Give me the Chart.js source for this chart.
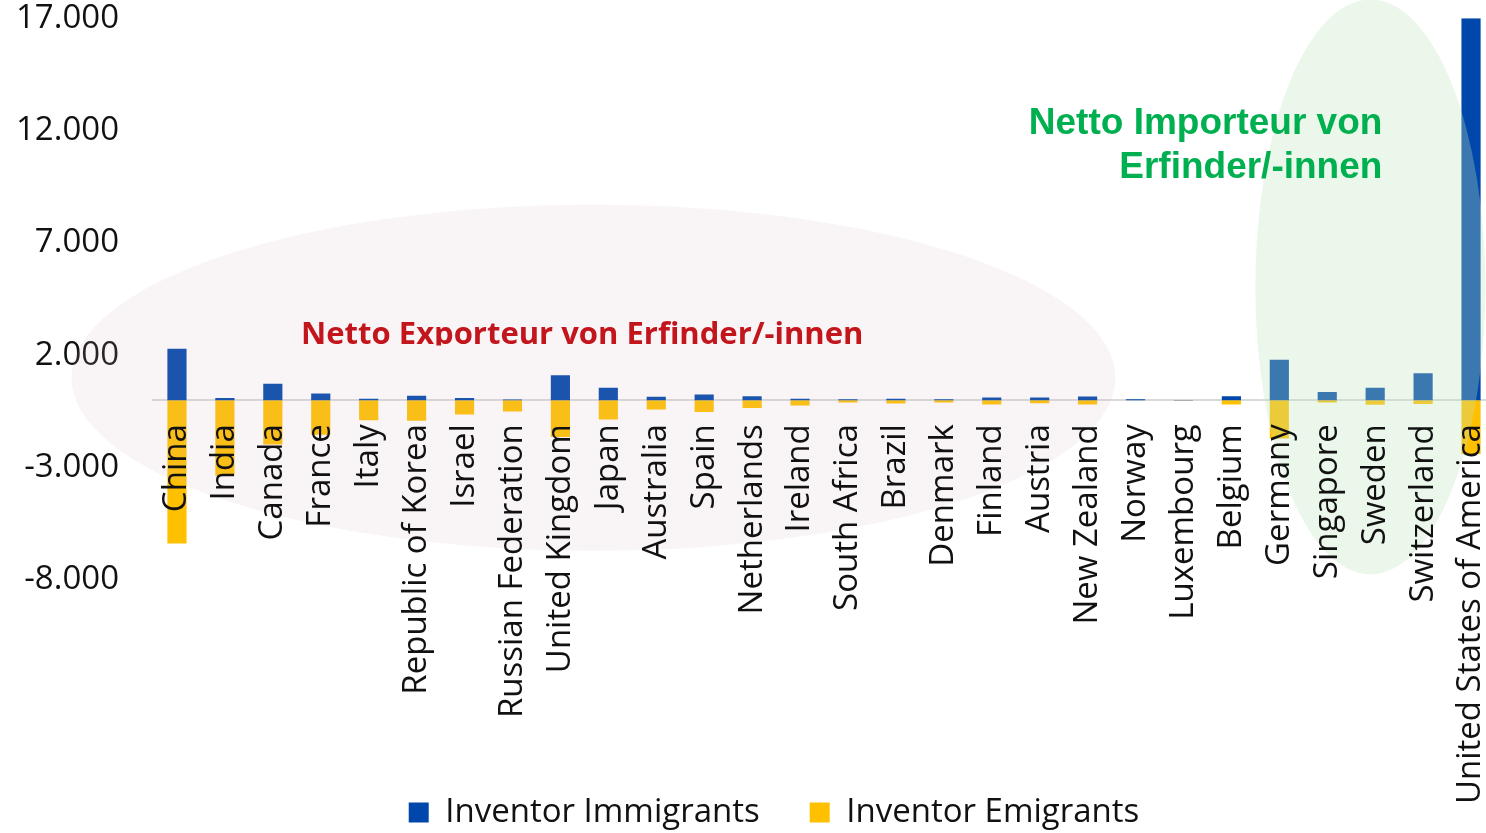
<!DOCTYPE html>
<html>
<head>
<meta charset="utf-8">
<script src="https://cdn.jsdelivr.net/npm/chart.js@4.4.1/dist/chart.umd.min.js"></script>
<style>
  html, body { margin: 0; padding: 0; background: #fff; overflow: hidden; }
  /* slightly wider than the window: the original plot runs past the right edge */
  #wrap { position: relative; width: 1495px; height: 833px; }
</style>
</head>
<body>
<div id="wrap"><canvas id="migration-chart"></canvas></div>
<script>
  // Data
  const countries = [
    'China', 'India', 'Canada', 'France', 'Italy', 'Republic of Korea', 'Israel',
    'Russian Federation', 'United Kingdom', 'Japan', 'Australia', 'Spain', 'Netherlands',
    'Ireland', 'South Africa', 'Brazil', 'Denmark', 'Finland', 'Austria', 'New Zealand',
    'Norway', 'Luxembourg', 'Belgium', 'Germany', 'Singapore', 'Sweden', 'Switzerland',
    'United States of America'
  ];
  const immigrants = [
    2290, 100, 730, 300, 60, 200, 100, 30, 1110, 550, 150, 250, 180, 60,
    40, 70, 40, 120, 120, 160, 40, 10, 180, 1800, 370, 550, 1200, 17000
  ];
  const emigrants = [
    -6380, -3360, -1970, -1540, -890, -910, -640, -500, -1640, -860, -410, -520, -350, -240,
    -100, -150, -100, -190, -140, -190, 0, -10, -190, -1700, -100, -200, -170, -2390
  ];
  const seriesNames = ['Inventor Immigrants', 'Inventor Emigrants'];
  const yTickValues = [-8000, -3000, 2000, 7000, 12000, 17000];

  const FONT = 'Open Sans';

  function formatDe(v) {
    const s = String(Math.abs(v)).replace(/\B(?=(\d{3})+(?!\d))/g, '.');
    return v < 0 ? '-' + s : s;
  }

  // highlight ellipses + captions, placed in scale units (category index / value)
  const highlightPlugin = {
    id: 'highlights',
    afterLayout(chart) {
      // legend sits a bit right of the canvas centre in the original
      if (chart.legend) {
        chart.legend.left += 20;
        chart.legend.right += 20;
      }
    },
    afterDatasetsDraw(chart) {
      const {ctx, scales: {x, y}} = chart;
      const ell = (i0, i1, v0, v1, fill) => {
        const l = x.getPixelForValue(i0), r = x.getPixelForValue(i1);
        const t = y.getPixelForValue(v0), b = y.getPixelForValue(v1);
        ctx.beginPath();
        ctx.ellipse((l + r) / 2, (t + b) / 2, (r - l) / 2, (b - t) / 2, 0, 0, Math.PI * 2);
        ctx.fillStyle = fill;
        ctx.fill();
      };
      ctx.save();
      ell(-2.2, 19.58, 8700, -6700, 'rgba(210, 176, 186, 0.13)');
      ell(22.5, 27.3, 17830, -7750, 'rgba(192, 229, 187, 0.31)');
      ctx.restore();
    },
    afterDraw(chart) {
      const {ctx, scales: {x, y}} = chart;
      ctx.save();
      // red caption, bottom edge cut off like in the original
      ctx.beginPath();
      ctx.rect(0, 0, chart.width, y.getPixelForValue(2430));
      ctx.clip();
      ctx.fillStyle = '#C3151C';
      ctx.font = 'bold 31px "' + FONT + '"';
      ctx.textAlign = 'left';
      ctx.textBaseline = 'alphabetic';
      ctx.fillText('Netto Exporteur von Erfinder/-innen', x.getPixelForValue(2.59), y.getPixelForValue(2520), 565);
      ctx.restore();

      ctx.save();
      ctx.fillStyle = '#00B050';
      ctx.font = 'bold 37px "Liberation Sans"';
      ctx.textAlign = 'right';
      ctx.textBaseline = 'alphabetic';
      const rx = x.getPixelForValue(25.15);
      ctx.fillText('Netto Importeur von', rx, y.getPixelForValue(11865));
      ctx.fillText('Erfinder/-innen', rx, y.getPixelForValue(9905));
      ctx.restore();
    }
  };

  const chart = new Chart(document.getElementById('migration-chart'), {
    type: 'bar',
    data: {
      labels: countries,
      datasets: [
        { label: seriesNames[0], data: immigrants, xAxisID: 'x', backgroundColor: '#0047AB', barPercentage: 0.5, categoryPercentage: 0.8 },
        { label: seriesNames[1], data: emigrants, xAxisID: 'x', backgroundColor: '#FFC000', barPercentage: 0.5, categoryPercentage: 0.8 }
      ]
    },
    options: {
      responsive: true,
      maintainAspectRatio: false,
      animation: false,
      layout: { padding: { left: 13, right: 0, top: 0, bottom: -6 } },
      plugins: {
        legend: {
          position: 'bottom',
          labels: {
            boxWidth: 20,
            boxHeight: 20,
            padding: 50,
            color: '#111',
            font: { family: FONT, size: 33 }
          }
        },
        tooltip: { enabled: false }
      },
      scales: {
        // category axis drawn on the zero line
        x: {
          stacked: true,
          position: { y: 0 },
          grid: { display: false, drawTicks: true, tickLength: 24 },
          border: { display: true, color: '#d9d9d9', width: 2 },
          ticks: {
            autoSkip: false,
            minRotation: 90,
            maxRotation: 90,
            padding: 0,
            color: '#111',
            z: 1,
            font: { family: FONT, size: 33 }
          },
          afterFit: s => { s.paddingLeft = 0; s.paddingRight = 0; }
        },
        // empty bottom axis that only reserves room for the rotated labels
        spacer: {
          type: 'category',
          axis: 'x',
          position: 'bottom',
          grid: { display: false, drawTicks: false },
          border: { display: false },
          ticks: { display: false },
          afterFit: s => { s.height = 166; }
        },
        y: {
          stacked: true,
          min: -8000,
          max: 17000,
          grid: { display: false, drawTicks: true, tickLength: 34 },
          border: { display: false },
          ticks: {
            padding: 0,
            color: '#111',
            font: { family: FONT, size: 33, lineHeight: 1.1 },
            callback: v => formatDe(v)
          },
          afterBuildTicks: s => { s.ticks = yTickValues.map(v => ({ value: v })); },
          afterFit: s => { s.width = 140; }
        }
      }
    },
    plugins: [highlightPlugin]
  });
</script>
</body>
</html>
